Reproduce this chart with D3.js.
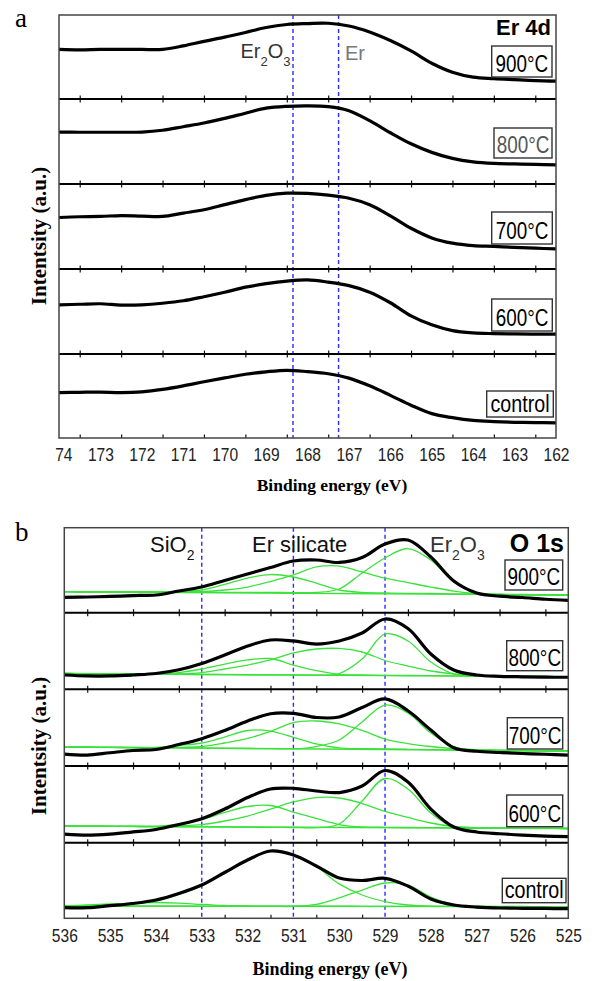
<!DOCTYPE html>
<html>
<head>
<meta charset="utf-8">
<script src="https://cdn.jsdelivr.net/npm/d3@7/dist/d3.min.js"></script>
<style>
  body { margin: 0; background: #fff; }
  text { font-family: "Liberation Sans", Arial, sans-serif; }
</style>
</head>
<body>
<svg id="fig" width="592" height="981"></svg>
<script>
// ---------- panel a : Er 4d (relative intensity, 0..1 inside each strip) ----------
var er_energy = [174, 173.5, 173, 172.5, 172, 171.5, 171, 170.5, 170, 169.5, 169, 168.5, 168,
                 167.5, 167, 166.5, 166, 165.5, 165, 164.5, 164, 163.5, 163, 162.5, 162];
var er_900 = [0.59, 0.585, 0.59, 0.59, 0.59, 0.59, 0.632, 0.686, 0.736, 0.792, 0.851, 0.887, 0.898,
              0.902, 0.869, 0.798, 0.697, 0.573, 0.426, 0.319, 0.26, 0.242, 0.23, 0.219, 0.213];
var er_800 = [0.611, 0.609, 0.609, 0.609, 0.611, 0.632, 0.674, 0.717, 0.772, 0.833, 0.892, 0.914, 0.92,
              0.91, 0.863, 0.745, 0.603, 0.473, 0.372, 0.301, 0.26, 0.242, 0.236, 0.23, 0.225];
var er_700 = [0.606, 0.615, 0.618, 0.629, 0.623, 0.618, 0.658, 0.697, 0.757, 0.816, 0.866, 0.892, 0.889,
              0.869, 0.833, 0.757, 0.626, 0.479, 0.366, 0.304, 0.275, 0.266, 0.254, 0.245, 0.236];
var er_600 = [0.579, 0.585, 0.591, 0.576, 0.579, 0.597, 0.626, 0.674, 0.727, 0.786, 0.827, 0.857, 0.871,
              0.845, 0.804, 0.727, 0.603, 0.449, 0.343, 0.275, 0.248, 0.24, 0.236, 0.234, 0.233];
var er_ctl = [0.54, 0.544, 0.547, 0.54, 0.55, 0.579, 0.621, 0.67, 0.715, 0.759, 0.788, 0.806, 0.79,
              0.765, 0.713, 0.621, 0.508, 0.39, 0.29, 0.242, 0.209, 0.195, 0.187, 0.183, 0.181];
var er_samples = ["900°C", "800°C", "700°C", "600°C", "control"];
var er_ticks = [174, 173, 172, 171, 170, 169, 168, 167, 166, 165, 164, 163, 162];
var er_minor = [173.5, 172.5, 171.5, 170.5, 169.5, 168.5, 167.5, 166.5, 165.5, 164.5, 163.5, 162.5];
var er_tick_labels = ["174", "173", "172", "171", "170", "169", "168", "167", "166", "165", "164", "163", "162"];
var er_refs = [168.35, 167.25]; // Er2O3, Er

// ---------- panel b : O 1s ----------
var o_energy = [536, 535.5, 535, 534.5, 534, 533.5, 533, 532.5, 532, 531.5, 531, 530.5, 530,
                529.5, 529, 528.5, 528, 527.5, 527, 526.5, 526, 525.5, 525];
var o_900 = [0.181, 0.185, 0.191, 0.202, 0.208, 0.255, 0.302, 0.379, 0.455, 0.532, 0.608, 0.62, 0.591,
             0.649, 0.808, 0.855, 0.655, 0.373, 0.232, 0.194, 0.179, 0.158, 0.146];
var o_900_base = [0.247, 0.208];
var o_900_sil1 = [0.247, 0.246, 0.244, 0.244, 0.244, 0.249, 0.267, 0.332, 0.408, 0.449, 0.42, 0.349, 0.267,
                  0.238, 0.232, 0.228, 0.226, 0.222, 0.22, 0.216, 0.214, 0.212, 0.208];
var o_900_sil2 = [0.247, 0.246, 0.244, 0.244, 0.244, 0.244, 0.247, 0.267, 0.302, 0.367, 0.444, 0.538, 0.549,
                  0.479, 0.407, 0.355, 0.302, 0.255, 0.226, 0.214, 0.211, 0.208, 0.208];
var o_900_ox = [0.247, 0.246, 0.245, 0.244, 0.243, 0.242, 0.241, 0.24, 0.239, 0.238, 0.237, 0.238, 0.279,
                0.467, 0.644, 0.755, 0.62, 0.361, 0.232, 0.214, 0.211, 0.209, 0.208];

var o_800 = [0.187, 0.174, 0.174, 0.187, 0.206, 0.255, 0.337, 0.448, 0.565, 0.644, 0.631, 0.591, 0.631,
             0.735, 0.918, 0.793, 0.461, 0.252, 0.187, 0.17, 0.163, 0.158, 0.157];
var o_800_base = [0.206, 0.164];
var o_800_sil1 = [0.206, 0.204, 0.2, 0.197, 0.196, 0.219, 0.265, 0.33, 0.383, 0.402, 0.317, 0.245, 0.193,
                  0.187, 0.183, 0.18, 0.178, 0.175, 0.174, 0.171, 0.168, 0.167, 0.164];
var o_800_sil2 = [0.206, 0.204, 0.2, 0.197, 0.196, 0.2, 0.219, 0.265, 0.317, 0.383, 0.474, 0.526, 0.533,
                  0.487, 0.376, 0.304, 0.239, 0.2, 0.18, 0.171, 0.168, 0.167, 0.164];
var o_800_ox = [0.206, 0.204, 0.2, 0.197, 0.196, 0.194, 0.193, 0.191, 0.19, 0.188, 0.187, 0.185, 0.206,
                0.396, 0.722, 0.631, 0.356, 0.2, 0.174, 0.171, 0.168, 0.167, 0.164];

var o_700 = [0.156, 0.143, 0.173, 0.202, 0.215, 0.28, 0.355, 0.463, 0.587, 0.681, 0.687, 0.632, 0.639,
             0.763, 0.874, 0.72, 0.469, 0.239, 0.192, 0.176, 0.163, 0.153, 0.143];
var o_700_base = [0.248, 0.196];
var o_700_sil1 = [0.248, 0.245, 0.243, 0.24, 0.241, 0.267, 0.3, 0.378, 0.463, 0.456, 0.374, 0.287, 0.235,
                  0.227, 0.222, 0.218, 0.214, 0.21, 0.206, 0.202, 0.2, 0.197, 0.196];
var o_700_sil2 = [0.248, 0.245, 0.243, 0.24, 0.238, 0.244, 0.254, 0.3, 0.359, 0.45, 0.567, 0.587, 0.548,
                  0.463, 0.352, 0.293, 0.254, 0.226, 0.211, 0.205, 0.201, 0.198, 0.196];
var o_700_ox = [0.248, 0.245, 0.243, 0.241, 0.239, 0.236, 0.233, 0.231, 0.228, 0.227, 0.224, 0.254, 0.339,
                0.574, 0.795, 0.691, 0.43, 0.25, 0.211, 0.205, 0.201, 0.198, 0.196];

var o_600 = [0.113, 0.1, 0.113, 0.14, 0.172, 0.237, 0.312, 0.439, 0.589, 0.7, 0.709, 0.674, 0.654,
             0.739, 0.941, 0.791, 0.439, 0.205, 0.14, 0.117, 0.1, 0.087, 0.078];
var o_600_base = [0.218, 0.185];
var o_600_sil1 = [0.218, 0.216, 0.214, 0.212, 0.214, 0.244, 0.302, 0.394, 0.472, 0.485, 0.4, 0.316, 0.237,
                  0.205, 0.201, 0.198, 0.196, 0.193, 0.192, 0.189, 0.188, 0.187, 0.185];
var o_600_sil2 = [0.218, 0.216, 0.214, 0.212, 0.21, 0.22, 0.237, 0.283, 0.348, 0.439, 0.531, 0.589, 0.583,
                  0.511, 0.407, 0.329, 0.257, 0.211, 0.196, 0.192, 0.188, 0.187, 0.185];
var o_600_ox = [0.218, 0.216, 0.214, 0.212, 0.21, 0.208, 0.206, 0.204, 0.202, 0.2, 0.198, 0.196, 0.244,
                0.544, 0.837, 0.7, 0.387, 0.205, 0.192, 0.189, 0.188, 0.187, 0.185];

var o_ctl = [0.14, 0.14, 0.167, 0.196, 0.242, 0.328, 0.44, 0.606, 0.771, 0.89, 0.837, 0.692, 0.533,
             0.5, 0.529, 0.427, 0.255, 0.176, 0.149, 0.136, 0.132, 0.13, 0.127];
var o_ctl_base = [0.163, 0.153];
var o_ctl_sio2 = [0.163, 0.176, 0.189, 0.202, 0.209, 0.202, 0.183, 0.169, 0.163, 0.162, 0.161, 0.16, 0.16,
                  0.159, 0.159, 0.158, 0.157, 0.157, 0.156, 0.155, 0.155, 0.154, 0.153];
var o_ctl_sil = [0.163, 0.165, 0.176, 0.196, 0.229, 0.315, 0.427, 0.599, 0.765, 0.89, 0.837, 0.685, 0.455,
                 0.308, 0.222, 0.176, 0.16, 0.159, 0.157, 0.156, 0.156, 0.155, 0.153];
var o_ctl_ox = [0.163, 0.162, 0.162, 0.161, 0.16, 0.16, 0.159, 0.159, 0.158, 0.158, 0.157, 0.183, 0.269,
                0.374, 0.467, 0.44, 0.282, 0.183, 0.156, 0.155, 0.155, 0.154, 0.153];

var o_samples = ["900°C", "800°C", "700°C", "600°C", "control"];
var o_ticks = [536, 535, 534, 533, 532, 531, 530, 529, 528, 527, 526, 525];
var o_minor = [535.5, 534.5, 533.5, 532.5, 531.5, 530.5, 529.5, 528.5, 527.5, 526.5, 525.5];
var o_tick_labels = ["536", "535", "534", "533", "532", "531", "530", "529", "528", "527", "526", "525"];
var o_refs = [533, 531, 529]; // SiO2, Er silicate, Er2O3

var svg = d3.select("#fig");
var serif = "'Liberation Serif', 'Times New Roman', serif";
var squeeze = 0.82; // the original labels use a narrow sans face

function drawPanel(p) {
  var x = d3.scaleLinear()
      .domain([p.energy[0], p.energy[p.energy.length - 1]])
      .range([p.left, p.right]);
  var g = svg.append("g");

  // dashed reference energies
  p.refs.forEach(function(e) {
    g.append("line")
      .attr("x1", x(e)).attr("x2", x(e))
      .attr("y1", p.rows[0]).attr("y2", p.rows[p.rows.length - 1])
      .attr("stroke", "#2b2bff").attr("stroke-width", 1.4)
      .attr("stroke-dasharray", "4,3");
  });

  p.data.forEach(function(series, i) {
    var top = p.rows[i], bottom = p.rows[i + 1];
    var y = d3.scaleLinear().domain([0, 1]).range([bottom, top]);
    var line = d3.line()
      .x(function(d, j) { return x(p.energy[j]); })
      .y(function(d) { return y(d); })
      .curve(d3.curveCatmullRom.alpha(0.5));

    // ticks: up from bottom edge, down from top edge (not on the very top)
    var tb = g.append("g").attr("transform", "translate(0," + bottom + ")");
    tb.call(d3.axisBottom(x).tickValues(p.ticks).tickSize(-7).tickFormat(""));
    tb.call(d3.axisBottom(x).tickValues(p.minor).tickSize(-3.5).tickFormat(""));
    tb.selectAll(".domain").remove();
    if (i > 0) {
      var tt = g.append("g").attr("transform", "translate(0," + top + ")");
      tt.call(d3.axisTop(x).tickValues(p.ticks).tickSize(-7).tickFormat(""));
      tt.call(d3.axisTop(x).tickValues(p.minor).tickSize(-3.5).tickFormat(""));
      tt.selectAll(".domain").remove();
    }
    g.selectAll(".tick line").attr("stroke", "#111").attr("stroke-width", 1.2);

    // fitted components
    if (p.base) {
      var b = p.base[i];
      g.append("line")
        .attr("x1", x(p.energy[0])).attr("x2", x(p.energy[p.energy.length - 1]))
        .attr("y1", y(b[0])).attr("y2", y(b[1]))
        .attr("stroke", "#3be23b").attr("stroke-width", 1.4);
      p.fits[i].forEach(function(f) {
        g.append("path").attr("d", line(f))
          .attr("fill", "none").attr("stroke", "#3be23b").attr("stroke-width", 1.3);
      });
    }

    g.append("path").attr("d", line(series))
      .attr("fill", "none").attr("stroke", "#000")
      .attr("stroke-width", 3.2).attr("stroke-linejoin", "round");

    // separators
    if (i > 0) {
      g.append("line").attr("x1", p.left).attr("x2", p.right)
        .attr("y1", top).attr("y2", top)
        .attr("stroke", "#000").attr("stroke-width", 2);
    }

    // sample box
    var bx = p.boxes[i];
    g.append("rect").attr("x", bx[0]).attr("y", bx[1]).attr("width", bx[2]).attr("height", bx[3])
      .attr("fill", "#fff").attr("stroke", "#333").attr("stroke-width", 1.4);
    g.append("text")
      .attr("transform", "translate(" + (bx[0] + bx[2] / 2) + "," + (bx[1] + bx[3] - 5) + ") scale(" + squeeze + ",1)")
      .attr("text-anchor", "middle")
      .style("font-size", (p.samples[i] === "control" ? 24 : 23) + "px")
      .attr("fill", p.boxColors[i])
      .text(p.samples[i]);
  });

  // frame
  g.append("rect").attr("x", p.left).attr("y", p.rows[0])
    .attr("width", p.right - p.left).attr("height", p.rows[p.rows.length - 1] - p.rows[0])
    .attr("fill", "none").attr("stroke", "#444").attr("stroke-width", 1.5);

  // tick labels
  var clipId = "clip" + p.id;
  svg.append("clipPath").attr("id", clipId).append("rect")
    .attr("x", p.labelClip).attr("y", 0).attr("width", 592).attr("height", 981);
  var tl = g.append("g")
    .attr("transform", "translate(0," + p.rows[p.rows.length - 1] + ")")
    .attr("clip-path", "url(#" + clipId + ")")
    .call(d3.axisBottom(x).tickValues(p.ticks).tickSize(0).tickPadding(10)
      .tickFormat(function(d, i) { return p.tickLabels[i]; }));
  tl.select(".domain").remove();
  tl.selectAll("text")
    .attr("transform", "scale(" + squeeze + ",1)")
    .style("font-family", "'Liberation Sans', Arial, sans-serif")
    .style("font-size", "19px").attr("fill", "#222");

  // axis titles
  g.append("text").attr("x", p.xTitle[0]).attr("y", p.xTitle[1])
    .attr("text-anchor", "middle")
    .style("font-family", serif).style("font-weight", "bold").style("font-size", p.xTitle[2] + "px")
    .text("Binding energy (eV)");
  g.append("text")
    .attr("transform", "translate(" + p.yTitle[0] + "," + p.yTitle[1] + ") rotate(-90)")
    .attr("text-anchor", "middle")
    .style("font-family", serif).style("font-weight", "bold").style("font-size", "21px")
    .text("Intentsity (a.u.)");
  g.append("text").attr("x", 15).attr("y", p.letter[1])
    .style("font-family", serif).style("font-size", "27px")
    .text(p.letter[0]);
  return x;
}

drawPanel({
  id: "a", energy: er_energy, left: 59, right: 556,
  rows: [15, 99, 184, 269, 354, 438],
  data: [er_900, er_800, er_700, er_600, er_ctl],
  ticks: er_ticks, minor: er_minor, tickLabels: er_tick_labels, labelClip: 55,
  refs: er_refs, samples: er_samples,
  boxes: [[491.7, 46, 60.3, 31], [494, 128, 58, 30], [491.7, 212, 60.6, 32],
          [491.7, 299, 60.6, 32], [486.7, 391, 66.6, 26]],
  boxColors: ["#000", "#555", "#000", "#000", "#000"],
  xTitle: [332, 491, 17.5], yTitle: [46, 236], letter: ["a", 27]
});

drawPanel({
  id: "b", energy: o_energy, left: 64.3, right: 568.3,
  rows: [527.7, 612.7, 689.3, 766, 842.7, 918.3],
  data: [o_900, o_800, o_700, o_600, o_ctl],
  base: [o_900_base, o_800_base, o_700_base, o_600_base, o_ctl_base],
  fits: [[o_900_sil1, o_900_sil2, o_900_ox], [o_800_sil1, o_800_sil2, o_800_ox],
         [o_700_sil1, o_700_sil2, o_700_ox], [o_600_sil1, o_600_sil2, o_600_ox],
         [o_ctl_sio2, o_ctl_sil, o_ctl_ox]],
  ticks: o_ticks, minor: o_minor, tickLabels: o_tick_labels, labelClip: 0,
  refs: o_refs, samples: o_samples,
  boxes: [[505, 560, 57.7, 30], [506.7, 640.7, 56, 30], [507.3, 717.7, 55.4, 31.3],
          [506.7, 795, 56, 31.7], [502.3, 878.3, 63.7, 24.4]],
  boxColors: ["#000", "#000", "#000", "#000", "#000"],
  xTitle: [330, 975, 18], yTitle: [46, 746], letter: ["b", 541]
});

// peak labels
function chem(x, y, parts, size, color) {
  var t = svg.append("text").attr("x", x).attr("y", y)
    .attr("fill", color).style("font-size", size + "px");
  parts.forEach(function(pt) {
    var s = t.append("tspan").text(pt[0]);
    if (pt[1]) s.style("font-size", Math.round(size * 0.65) + "px").attr("dy", size * 0.38);
    else if (pt[2]) s.attr("dy", -size * 0.38);
  });
  return t;
}
chem(240.5, 58, [["Er"], ["2", 1], ["O", 0, 1], ["3", 1]], 20, "#333");
chem(345, 60, [["Er"]], 20, "#777");
svg.append("text").attr("x", 551).attr("y", 35).attr("text-anchor", "end")
  .style("font-weight", "bold").style("font-size", "22px").text("Er 4d");

chem(150, 552, [["SiO"], ["2", 1]], 22, "#111");
svg.append("text").attr("x", 252).attr("y", 552).style("font-size", "22px").attr("fill", "#111").text("Er silicate");
chem(430, 552, [["Er"], ["2", 1], ["O", 0, 1], ["3", 1]], 22, "#333");
svg.append("text").attr("x", 564).attr("y", 552).attr("text-anchor", "end")
  .style("font-weight", "bold").style("font-size", "25px").text("O 1s");
</script>
</body>
</html>
